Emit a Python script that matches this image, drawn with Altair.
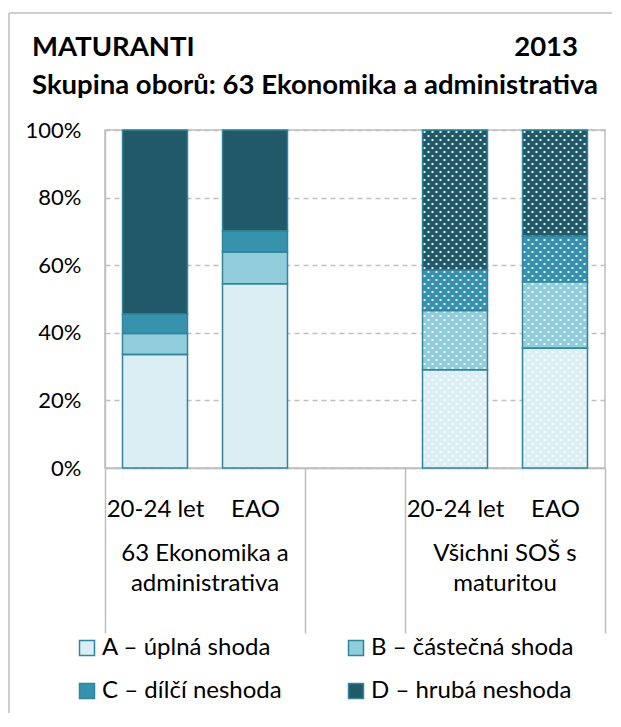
import base64
import altair as alt
import pandas as pd

# ---------------- data ----------------
slots = ["E20", "EEAO", "GAP", "V20", "VEAO"]
slot_labels = ["20-24 let", "EAO", "", "20-24 let", "EAO"]
bar_slots = ["E20", "EEAO", "V20", "VEAO"]
patterned_slots = ["V20", "VEAO"]
categories = ["A – úplná shoda", "B – částečná shoda", "C – dílčí neshoda", "D – hrubá neshoda"]
colors = ["#DAEEF3", "#92CDDC", "#3793AD", "#215968"]
vals_A = [33.6, 54.5, 29.1, 35.4]
vals_B = [6.2, 9.4, 17.5, 19.7]
vals_C = [5.7, 6.2, 11.9, 13.5]
vals_D = [54.5, 29.9, 41.5, 31.4]
group_slots = ["E20", "V20"]
group_labels = ["63 Ekonomika a\nadministrativa", "Všichni SOŠ s\nmaturitou"]
y_ticks = [0, 20, 40, 60, 80, 100]
title_text = "MATURANTI"
subtitle_text = "Skupina oborů: 63 Ekonomika a administrativa"
year_text = "2013"

rows = []
for ci, (cat, series) in enumerate(zip(categories, [vals_A, vals_B, vals_C, vals_D])):
    for s, v in zip(bar_slots, series):
        rows.append({"slot": s, "cat": cat, "ord": ci, "value": v})
df = pd.DataFrame(rows)
df_groups = pd.DataFrame({"slot": group_slots, "label": group_labels})
one = pd.DataFrame({"k": [0]})

# ---------------- styling ----------------
W, H = 500, 338
FONT = "Lato"
GRAY = "#BFBFBF"
STROKE = "#31859C"
BAR_W = alt.RelativeBandSize(0.65)
FS = 24
TFS = 27.5

dot_svg = (
    "<svg xmlns='http://www.w3.org/2000/svg' width='100%' height='100%'>"
    "<defs><pattern id='d' width='8' height='8' patternUnits='userSpaceOnUse'>"
    "<rect x='1' y='1' width='2' height='2' fill='white' fill-opacity='0.9'/>"
    "<rect x='5' y='5' width='2' height='2' fill='white' fill-opacity='0.9'/>"
    "</pattern></defs><rect width='100%' height='100%' fill='url(#d)'/></svg>"
)
DOT_URL = "data:image/svg+xml;base64," + base64.b64encode(dot_svg.encode()).decode()

label_expr = " : ".join(
    f"datum.value == '{s}' ? '{l}'" for s, l in zip(slots, slot_labels)
) + " : ''"

x_scale = alt.Scale(domain=slots, paddingInner=0, paddingOuter=0)
x_axis = alt.Axis(
    title=None,
    labelExpr=label_expr,
    labelAngle=0,
    labelFont=FONT,
    labelFontSize=FS,
    labelColor="black",
    labelPadding=-136,
    tickBand="extent",
    tickSize=165,
    tickColor=GRAY,
    tickWidth=1.5,
    tickOpacity={"condition": {"test": "datum.value == 'E20' || datum.value == 'V20'", "value": 0}, "value": 1},
    domainColor=GRAY,
    domainWidth=1.5,
    grid=False,
)
y_scale = alt.Scale(domain=[0, 100], nice=False)
y_axis = alt.Axis(
    title=None,
    values=y_ticks,
    labelExpr="datum.value + '%'",
    labelFont=FONT,
    labelFontSize=22,
    labelColor="black",
    labelPadding=24,
    ticks=False,
    domainColor=GRAY,
    domainWidth=1.5,
    grid=True,
    gridColor=GRAY,
    gridDash=[5, 4],
    gridWidth=1.5,
)

x_enc = alt.X("slot:N", scale=x_scale, axis=x_axis)

# frame (decoration of the chart area)
frame_v = alt.Chart(one).mark_rule(color=GRAY, strokeWidth=1.5).encode(
    x=alt.value(-96), y=alt.value(-117), y2=alt.value(583)
)
frame_h = alt.Chart(one).mark_rule(color=GRAY, strokeWidth=1.5).encode(
    x=alt.value(-96), x2=alt.value(507), y=alt.value(-117)
)

bars_fill = alt.Chart(df).mark_bar(width=BAR_W, strokeWidth=0).encode(
    x=x_enc,
    y=alt.Y("value:Q", stack="zero", scale=y_scale, axis=y_axis),
    color=alt.Color(
        "cat:N",
        scale=alt.Scale(domain=categories, range=colors),
        legend=alt.Legend(
            title=None,
            orient="none",
            direction="horizontal",
            legendX=-30,
            legendY=506,
            columns=2,
            columnPadding=62,
            rowPadding=19,
            symbolType="square",
            symbolSize=225,
            symbolStrokeColor=STROKE,
            symbolStrokeWidth=1.5,
            labelFont=FONT,
            labelFontSize=FS,
            labelColor="black",
            labelLimit=400,
            labelOffset=3,
        ),
    ),
    order=alt.Order("ord:Q", sort="ascending"),
)

dots = (
    alt.Chart(df)
    .transform_filter(alt.FieldOneOfPredicate(field="slot", oneOf=patterned_slots))
    .mark_image(width=BAR_W, aspect=False)
    .encode(
        x=alt.X("slot:N", scale=x_scale),
        y=alt.Y("sum(value):Q", scale=y_scale, stack=None),
        y2=alt.datum(0),
        url=alt.value(DOT_URL),
    )
)

bars_stroke = alt.Chart(df).mark_bar(
    width=BAR_W, fillOpacity=0, stroke=STROKE, strokeWidth=1.5
).encode(
    x=alt.X("slot:N", scale=x_scale),
    y=alt.Y("value:Q", stack="zero", scale=y_scale),
    detail="cat:N",
    order=alt.Order("ord:Q", sort="ascending"),
)

group_text = alt.Chart(df_groups).mark_text(
    font=FONT, fontSize=FS, baseline="middle", align="center", lineBreak="\n", lineHeight=30, color="black"
).encode(
    x=alt.X("slot:N", scale=x_scale, bandPosition=1),
    y=alt.value(H + 86),
    text="label:N",
)

title_mark = alt.Chart(one).mark_text(
    font=FONT, fontSize=TFS, fontWeight="bold", align="left", baseline="middle", color="black"
).encode(x=alt.value(-73), y=alt.value(-82), text=alt.value(title_text))

subtitle_mark = alt.Chart(one).mark_text(
    font=FONT, fontSize=TFS, fontWeight="bold", align="left", baseline="middle", color="black"
).encode(x=alt.value(-73), y=alt.value(-44), text=alt.value(subtitle_text))

year = alt.Chart(one).mark_text(
    font=FONT, fontSize=TFS, fontWeight="bold", align="right", baseline="middle", color="black"
).encode(x=alt.value(W - 27), y=alt.value(-82), text=alt.value(year_text))

chart = (
    alt.layer(frame_v, frame_h, bars_fill, dots, bars_stroke, group_text, title_mark, subtitle_mark, year)
    .properties(
        width=W,
        height=H,
        padding={"left": 0, "top": 4, "right": 0, "bottom": 0},
    )
    .configure_view(stroke=GRAY, strokeWidth=1.5)
)

chart.save("out.html", embed_options={"renderer": "svg", "actions": False})
